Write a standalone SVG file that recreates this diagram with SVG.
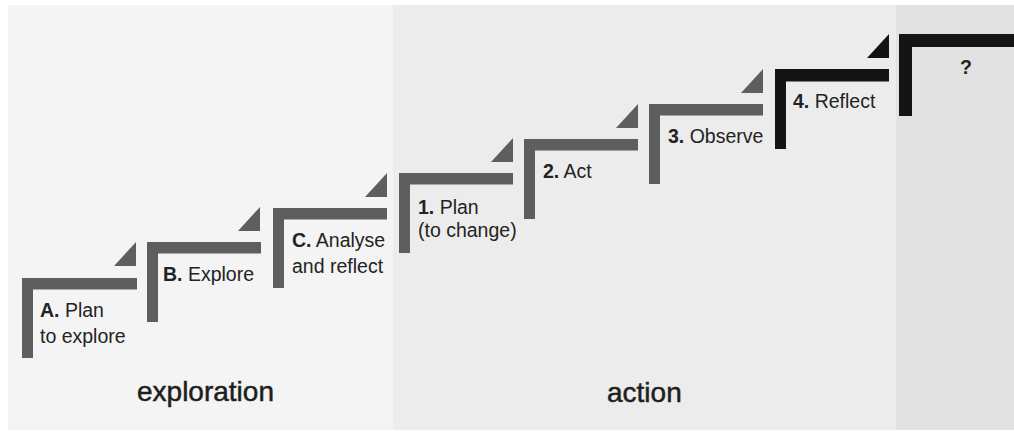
<svg xmlns="http://www.w3.org/2000/svg" width="1014" height="432" viewBox="0 0 1014 432">
<style>
.lbl{font-family:"Liberation Sans",Arial,sans-serif;font-size:19.5px;fill:#232323}
.lbl .b{font-weight:bold}
.phase{font-family:"Liberation Sans",Arial,sans-serif;font-size:28px;fill:#1e1e1e;stroke:#1e1e1e;stroke-width:0.5}
.gray{fill:#5e5e5e}
.dark{fill:#141414}
</style>
<rect x="0" y="0" width="1014" height="432" fill="#ffffff"/>
<rect x="8" y="5" width="386" height="425" fill="#f4f4f4"/>
<rect x="393" y="5" width="504" height="425" fill="#ececec"/>
<rect x="896" y="5" width="118" height="425" fill="#e2e2e2"/>

<g id="connectors">
<polygon class="gray" points="136,242 136,266 114,266"/>
<polygon class="gray" points="260,207 260,231 238,231"/>
<polygon class="gray" points="387,173 387,197 365,197"/>
<polygon class="gray" points="513,138 513,162 491,162"/>
<polygon class="gray" points="638,104 638,128 616,128"/>
<polygon class="gray" points="763,69 763,93 741,93"/>
<polygon class="dark" points="889,34 889,58 867,58"/>
</g>

<g id="stepA">
<path class="gray" d="M22,278 h115 v11.5 h-104 v68.5 h-11 z"/>
<text class="lbl" x="40" y="317"><tspan class="b">A.</tspan> Plan</text>
<text class="lbl" x="40" y="343">to explore</text>
</g>
<g id="stepB">
<path class="gray" d="M147,242 h114 v11.5 h-103 v68.5 h-11 z"/>
<text class="lbl" x="163" y="281"><tspan class="b">B.</tspan> Explore</text>
</g>
<g id="stepC">
<path class="gray" d="M273,208 h114 v11.5 h-103 v68.5 h-11 z"/>
<text class="lbl" x="292" y="247"><tspan class="b">C.</tspan> Analyse</text>
<text class="lbl" x="292" y="273">and reflect</text>
</g>
<g id="step1">
<path class="gray" d="M399,173 h114 v11.5 h-103 v68.5 h-11 z"/>
<text class="lbl" x="418" y="214"><tspan class="b">1.</tspan> Plan</text>
<text class="lbl" x="418" y="237">(to change)</text>
</g>
<g id="step2">
<path class="gray" d="M524,139 h114 v11.5 h-103 v68.5 h-11 z"/>
<text class="lbl" x="543" y="178"><tspan class="b">2.</tspan> Act</text>
</g>
<g id="step3">
<path class="gray" d="M649,104 h114 v11.5 h-103 v68.5 h-11 z"/>
<text class="lbl" x="668" y="143"><tspan class="b">3.</tspan> Observe</text>
</g>
<g id="step4">
<path class="dark" d="M775,69 h114 v12.5 h-103 v67.5 h-11 z"/>
<text class="lbl" x="793" y="108"><tspan class="b">4.</tspan> Reflect</text>
</g>
<g id="stepNext">
<path class="dark" d="M899,34 h115 v13 h-102 v69 h-13 z"/>
<text class="lbl" x="966" y="74" text-anchor="middle" font-weight="bold">?</text>
</g>

<g id="phases">
<text class="phase" x="137" y="401">exploration</text>
<text class="phase" x="607" y="402">action</text>
</g>
</svg>
